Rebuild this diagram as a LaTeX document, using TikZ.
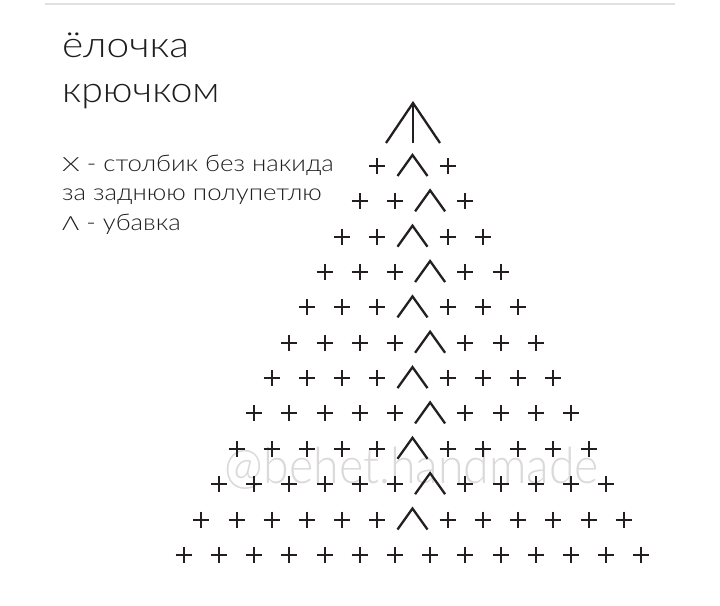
\documentclass[tikz,border=0pt]{standalone}
\usepackage{fontspec}
\newfontfamily\lt{Lato Light}
\newfontfamily\lr{Lato}
\definecolor{ink}{HTML}{231F20}
\definecolor{txt}{HTML}{1E1E1E}
\definecolor{wm}{HTML}{DADADA}
\newcommand\wide[2]{\scalebox{#1}[1]{#2}}
\begin{document}
\begin{tikzpicture}[x=1pt,y=-1pt]
\useasboundingbox (0,0) rectangle (720,605);
\fill[white] (0,0) rectangle (720,605);
\tikzset{
  plusst/.style={line width=2.0pt, draw=ink},
  decst/.style={line width=2.3pt, draw=ink, line join=miter},
  label/.style={anchor=base west, inner sep=0pt, text=txt},
}
% top rule
\draw[line width=1.2pt, black!12] (45,4) coordinate (r1) -- (675,4) coordinate (r2);
% watermark
\node[anchor=base, inner sep=0pt, text=wm, font={\lt\fontsize{50}{50}\selectfont}] (wmark) at (412,483) {\wide{0.93}{@behet.handmade}};
% titles
\node[label, font={\lt\fontsize{36}{36}\selectfont}] (t1) at (62,57) {\wide{1.13}{ёлочка}};
\node[label, font={\lt\fontsize{36}{36}\selectfont}] (t2) at (62,102) {\wide{1.09}{крючком}};
% legend
\node[label, font={\lt\fontsize{23}{23}\selectfont}] (l1) at (62,171) {\wide{1.12}{{\fontsize{19.5}{19.5}\selectfont\wide{1.3}{X}} - столбик без накида}};
\node[label, font={\lt\fontsize{23}{23}\selectfont}] (l2) at (62,200) {\wide{1.12}{за заднюю полупетлю}};
\node[label, font={\lt\fontsize{23}{23}\selectfont}] (l3) at (62,230) {\wide{1.12}{{\fontsize{19.5}{19.5}\selectfont\wide{1.2}{Λ}} - убавка}};
% top stitch
\coordinate (apex) at (413,103);
\draw[decst] (386,143) -- (apex) -- (440,143);
\draw[decst] (apex) -- (413,143);
% rows
\foreach \k in {1,...,12} {
  \pgfmathtruncatemacro\n{\k+2}
  \pgfmathtruncatemacro\last{\k+1}
  \pgfmathsetmacro\yy{166+(\k-1)*35.35}
  \pgfmathtruncatemacro\dec{\k<12 ? floor(\n/2) : -1}
  \foreach \i in {0,...,\last} {
    \pgfmathsetmacro\xx{412.5+(\i-(\n-1)/2)*35.2}
    \ifnum\i=\dec
      \draw[decst] (\xx-15,\yy+10) -- (\xx,\yy-11) -- (\xx+15,\yy+10);
    \else
      \draw[plusst] (\xx-8,\yy) -- (\xx+8,\yy) (\xx,\yy-8) -- (\xx,\yy+8);
    \fi
  }
}
\end{tikzpicture}
\end{document}
